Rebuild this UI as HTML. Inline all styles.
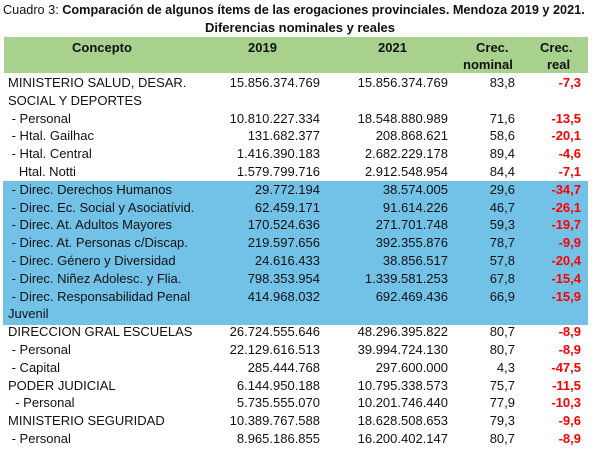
<!DOCTYPE html>
<html><head><meta charset="utf-8"><style>
body{margin:0;width:600px;height:450px;background:#fff;position:relative;overflow:hidden;font-family:"Liberation Sans",Arial,sans-serif;font-size:13px;color:#111}
div{position:absolute;white-space:nowrap;line-height:15px}
.r{text-align:right}
.red{color:#f00;font-weight:bold}
.b{font-weight:bold}
</style></head><body>
<div style="left:3px;top:3px;font-size:12.7px">Cuadro 3: <b>Comparación de algunos ítems de las erogaciones provinciales. Mendoza 2019 y 2021.</b></div>
<div class="b" style="left:0;width:600px;text-align:center;top:20px">Diferencias nominales y reales</div>
<div style="left:4px;top:37px;width:584px;height:36px;background:#a9d18e"></div>
<div style="left:3px;top:181px;width:585px;height:144px;background:#72c2e8"></div>
<div class="b" style="left:72px;top:40px">Concepto</div>
<div class="b" style="left:248px;top:40px">2019</div>
<div class="b" style="left:378px;top:40px">2021</div>
<div class="b" style="left:476px;top:40px">Crec.</div>
<div class="b" style="left:463px;top:57px">nominal</div>
<div class="b" style="left:540px;top:40px">Crec.</div>
<div class="b" style="left:547px;top:57px">real</div>
<div id="rows"></div>
<script>
var d=[
["MINISTERIO SALUD, DESAR.","15.856.374.769","15.856.374.769","83,8","-7,3"],
["SOCIAL Y DEPORTES","","","",""],
[" - Personal","10.810.227.334","18.548.880.989","71,6","-13,5"],
[" - Htal. Gailhac","131.682.377","208.868.621","58,6","-20,1"],
[" - Htal. Central","1.416.390.183","2.682.229.178","89,4","-4,6"],
["   Htal. Notti","1.579.799.716","2.912.548.954","84,4","-7,1"],
[" - Direc. Derechos Humanos","29.772.194","38.574.005","29,6","-34,7"],
[" - Direc. Ec. Social y Asociatívid.","62.459.171","91.614.226","46,7","-26,1"],
[" - Direc. At. Adultos Mayores","170.524.636","271.701.748","59,3","-19,7"],
[" - Direc. At. Personas c/Discap.","219.597.656","392.355.876","78,7","-9,9"],
[" - Direc. Género y Diversidad","24.616.433","38.856.517","57,8","-20,4"],
[" - Direc. Niñez Adolesc. y Flia.","798.353.954","1.339.581.253","67,8","-15,4"],
[" - Direc. Responsabilidad Penal","414.968.032","692.469.436","66,9","-15,9"],
["Juvenil","","","",""],
["DIRECCION GRAL ESCUELAS","26.724.555.646","48.296.395.822","80,7","-8,9"],
[" - Personal","22.129.616.513","39.994.724.130","80,7","-8,9"],
[" - Capital","285.444.768","297.600.000","4,3","-47,5"],
["PODER JUDICIAL","6.144.950.188","10.795.338.573","75,7","-11,5"],
["  - Personal","5.735.555.070","10.201.746.440","77,9","-10,3"],
["MINISTERIO SEGURIDAD","10.389.767.588","18.628.508.653","79,3","-9,6"],
[" - Personal","8.965.186.855","16.200.402.147","80,7","-8,9"]];
var h="";
for(var i=0;i<d.length;i++){var y=75+i*17.8;var r=d[i];
h+='<div style="left:8px;top:'+y+'px;white-space:pre">'+r[0]+'</div>';
h+='<div class="r" style="right:'+(600-320)+'px;top:'+y+'px">'+r[1]+'</div>';
h+='<div class="r" style="right:'+(600-448)+'px;top:'+y+'px">'+r[2]+'</div>';
h+='<div class="r" style="right:'+(600-515)+'px;top:'+y+'px">'+r[3]+'</div>';
h+='<div class="r red" style="right:'+(600-581)+'px;top:'+y+'px">'+r[4]+'</div>';}
document.getElementById("rows").outerHTML=h;
</script>
</body></html>
